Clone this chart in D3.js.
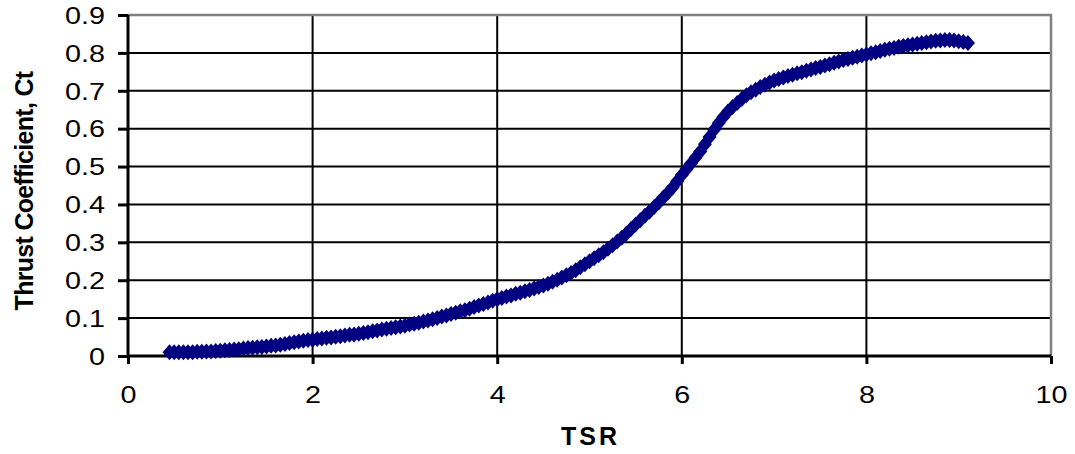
<!DOCTYPE html>
<html><head><meta charset="utf-8">
<script src="https://cdn.jsdelivr.net/npm/d3@7"></script>
<style>body{margin:0;background:#fff}svg{display:block}</style>
</head><body>
<svg id="c" width="1075" height="454"></svg>
<script>
const tsr = [0.45,0.50,0.55,0.60,0.65,0.70,0.75,0.80,0.85,0.90,0.95,1.00,1.05,1.10,1.15,1.20,1.25,1.30,1.35,1.40,1.45,1.50,1.55,1.60,1.65,1.70,1.75,1.80,1.85,1.90,1.95,2.00,2.05,2.10,2.15,2.20,2.25,2.30,2.35,2.40,2.45,2.50,2.55,2.60,2.65,2.70,2.75,2.80,2.85,2.90,2.95,3.00,3.05,3.10,3.15,3.20,3.25,3.30,3.35,3.40,3.45,3.50,3.55,3.60,3.65,3.70,3.75,3.80,3.85,3.90,3.95,4.00,4.05,4.10,4.15,4.20,4.25,4.30,4.35,4.40,4.45,4.50,4.55,4.60,4.65,4.70,4.75,4.80,4.85,4.90,4.95,5.00,5.05,5.10,5.15,5.20,5.25,5.30,5.35,5.40,5.45,5.50,5.55,5.60,5.65,5.70,5.75,5.80,5.85,5.90,5.95,6.00,6.05,6.10,6.15,6.20,6.25,6.30,6.35,6.40,6.45,6.50,6.55,6.60,6.65,6.70,6.75,6.80,6.85,6.90,6.95,7.00,7.05,7.10,7.15,7.20,7.25,7.30,7.35,7.40,7.45,7.50,7.55,7.60,7.65,7.70,7.75,7.80,7.85,7.90,7.95,8.00,8.05,8.10,8.15,8.20,8.25,8.30,8.35,8.40,8.45,8.50,8.55,8.60,8.65,8.70,8.75,8.80,8.85,8.90,8.95,9.00,9.05,9.10];
const ct = [0.010,0.010,0.010,0.010,0.010,0.010,0.011,0.011,0.012,0.012,0.013,0.014,0.015,0.016,0.017,0.018,0.020,0.021,0.022,0.023,0.024,0.025,0.027,0.028,0.030,0.032,0.034,0.036,0.038,0.040,0.042,0.043,0.045,0.046,0.048,0.049,0.051,0.052,0.054,0.056,0.057,0.059,0.061,0.063,0.065,0.067,0.070,0.072,0.074,0.076,0.078,0.080,0.083,0.085,0.088,0.091,0.094,0.097,0.100,0.104,0.107,0.111,0.114,0.118,0.121,0.125,0.129,0.133,0.137,0.141,0.146,0.150,0.153,0.157,0.160,0.164,0.167,0.171,0.174,0.178,0.182,0.186,0.191,0.196,0.201,0.207,0.213,0.219,0.226,0.234,0.242,0.250,0.258,0.266,0.274,0.283,0.292,0.302,0.312,0.323,0.335,0.347,0.358,0.370,0.381,0.393,0.405,0.418,0.431,0.445,0.461,0.478,0.493,0.508,0.524,0.540,0.559,0.578,0.597,0.615,0.631,0.645,0.657,0.668,0.678,0.688,0.696,0.703,0.710,0.716,0.722,0.727,0.731,0.735,0.739,0.742,0.746,0.749,0.753,0.756,0.760,0.763,0.767,0.770,0.774,0.777,0.781,0.784,0.787,0.790,0.793,0.796,0.799,0.802,0.805,0.808,0.811,0.813,0.816,0.818,0.820,0.822,0.824,0.826,0.828,0.830,0.832,0.833,0.834,0.834,0.833,0.831,0.829,0.826];
const xTicks = [0,2,4,6,8,10];
const yTicks = [0,0.1,0.2,0.3,0.4,0.5,0.6,0.7,0.8,0.9];
const xTitle = "TSR";
const yTitle = "Thrust Coefficient, Ct";

const svg = d3.select("#c");
const L = 128, R = 1051, T = 15, B = 356;
const x = d3.scaleLinear().domain([0,10]).range([L,R]);
const y = d3.scaleLinear().domain([0,0.9]).range([B,T]);
const font = "'Liberation Sans', Arial, sans-serif";
const sx = 1.25;

// gridlines
svg.append("g").selectAll("line").data(yTicks.filter(d=>d>0 && d<0.9)).join("line")
  .attr("x1",L).attr("x2",R).attr("y1",d=>y(d)).attr("y2",d=>y(d))
  .attr("stroke","#000").attr("stroke-width",2);
svg.append("g").selectAll("line").data(xTicks.filter(d=>d>0 && d<10)).join("line")
  .attr("y1",T).attr("y2",B).attr("x1",d=>x(d)).attr("x2",d=>x(d))
  .attr("stroke","#000").attr("stroke-width",2);
// top & right border
svg.append("path").attr("d",`M${L},${T}H${R}V${B}`).attr("fill","none")
  .attr("stroke","#808080").attr("stroke-width",2.5);

// axes
const yAxis = d3.axisLeft(y).tickValues(yTicks).tickSize(10).tickFormat(d=>d===0?"0":d3.format(".1f")(d));
const gy = svg.append("g").attr("transform",`translate(${L},0)`).call(yAxis);
const xAxis = d3.axisBottom(x).tickValues(xTicks).tickSize(8).tickFormat(d3.format("d"));
const gx = svg.append("g").attr("transform",`translate(0,${B})`).call(xAxis);
[gx,gy].forEach(g=>{
  g.select(".domain").attr("stroke","#000").attr("stroke-width",3);
  g.selectAll(".tick line").attr("stroke","#000").attr("stroke-width",3);
  g.selectAll(".tick text").attr("font-family",font).attr("font-size",23).attr("fill","#000")
    .attr("transform",`scale(${sx},1)`);
});
gy.selectAll(".tick text").attr("x",-23/sx).attr("dy","0.36em");
gx.selectAll(".tick text").attr("x",0).attr("y",47).attr("dy",0);
gx.select(".domain").attr("d",`M${L},0H${R}`);
gy.select(".domain").attr("d",`M0,${B}V${T}`);

// markers
const pts = tsr.map((t,i)=>[t,ct[i]]);
const hw = 7, hh = 8;
svg.append("g").selectAll("path").data(pts).join("path")
  .attr("d",d=>{const cx=x(d[0]),cy=y(d[1]);return `M${cx-hw},${cy}L${cx},${cy-hh}L${cx+hw},${cy}L${cx},${cy+hh}Z`;})
  .attr("fill","#000080");

// titles
svg.append("text").attr("x",(L+R)/2+1).attr("y",445).attr("text-anchor","middle")
  .attr("font-family",font).attr("font-weight","bold").attr("font-size",25)
  .attr("letter-spacing",3).text(xTitle);
svg.append("text").attr("transform","translate(33,191) rotate(-90)").attr("text-anchor","middle")
  .attr("font-family",font).attr("font-weight","bold").attr("font-size",25)
  .attr("letter-spacing",-0.7).text(yTitle);
</script>
</body></html>
